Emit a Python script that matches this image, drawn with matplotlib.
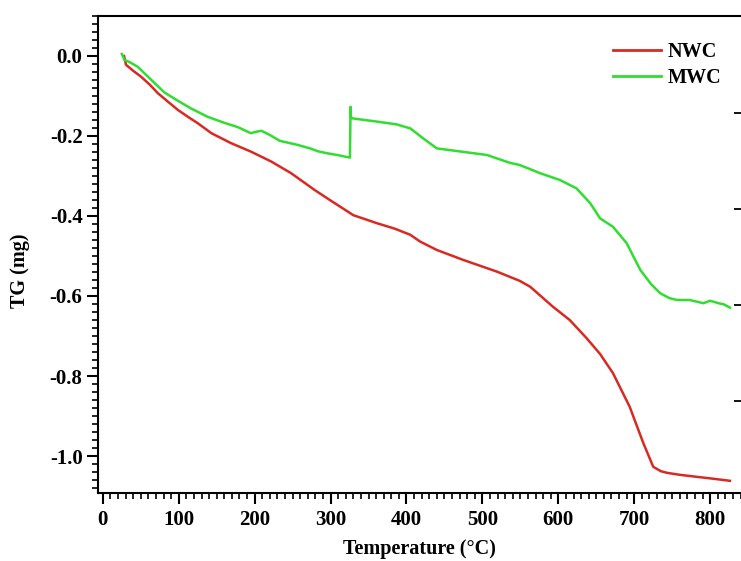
import numpy as np
import matplotlib
matplotlib.use('Agg')
import matplotlib.pyplot as plt
from matplotlib.ticker import MultipleLocator

plt.rcParams['font.family'] = ['Liberation Serif', 'DejaVu Serif']
plt.rcParams['font.weight'] = 'bold'
plt.rcParams['axes.unicode_minus'] = False

# NWC curve (temperature in C, TG in mg)
nwc_temp = [28, 30.5, 40, 50.5, 62, 72.5, 85, 99, 112, 125, 143, 169, 195, 222, 248,
            279, 299, 330, 361, 385, 405, 418, 440, 475, 519, 549, 563, 593, 615, 637,
            655, 672, 694, 712, 725, 735, 743, 760, 782, 805, 826]
nwc_tg = [0.0, -0.022, -0.037, -0.052, -0.072, -0.093, -0.113, -0.135, -0.152, -0.168,
          -0.193, -0.218, -0.239, -0.264, -0.293, -0.335, -0.36, -0.398, -0.418, -0.432,
          -0.447, -0.464, -0.485, -0.51, -0.539, -0.562, -0.577, -0.627, -0.66, -0.705,
          -0.745, -0.793, -0.877, -0.968, -1.027, -1.038, -1.042, -1.047, -1.052, -1.057,
          -1.062]

# MWC curve
mwc_temp = [25, 28.6, 35, 46, 64, 81, 99, 116, 138, 160, 178, 195, 203, 209, 220, 233,
            257, 273, 283, 295, 310, 325.5, 326.3, 326.8, 329, 345, 361, 387, 405, 422,
            440, 466, 506, 536, 549, 563, 576, 602, 624, 642, 655, 672, 690, 708, 722,
            734, 746, 756, 773, 782, 791, 800, 811, 818, 826]
mwc_tg = [0.005, -0.01, -0.015, -0.027, -0.06, -0.091, -0.112, -0.131, -0.152, -0.167,
          -0.178, -0.193, -0.189, -0.187, -0.1975, -0.212, -0.2225, -0.231, -0.238, -0.243,
          -0.248, -0.254, -0.127, -0.153, -0.156, -0.160, -0.164, -0.171, -0.181, -0.206,
          -0.231, -0.2375, -0.2475, -0.267, -0.2725, -0.283, -0.293, -0.31, -0.331, -0.368,
          -0.406, -0.427, -0.468, -0.535, -0.57, -0.593, -0.605, -0.61, -0.61, -0.614,
          -0.618, -0.612, -0.618, -0.621, -0.629]

x_ticks = [0, 100, 200, 300, 400, 500, 600, 700, 800]
y_ticks = [0.0, -0.2, -0.4, -0.6, -0.8, -1.0]
# ticks of the cropped second axis seen at the right edge
right_ticks = [-0.1425, -0.3825, -0.6225, -0.8625]

fig = plt.figure(figsize=(7.41, 5.61), dpi=100)
ax = fig.add_axes([0.132, 0.1212, 0.868, 0.8503])

ax.plot(nwc_temp, nwc_tg, color='#d82a22', linewidth=1.8, label='NWC')
ax.plot(mwc_temp, mwc_tg, color='#30dd30', linewidth=1.8, label='MWC')

ax.set_xlim(-6.6, 840.6)
ax.set_ylim(-1.0925, 0.1)
ax.set_xticks(x_ticks)
ax.set_yticks(y_ticks)
ax.set_yticklabels([f'{v:.1f}' for v in y_ticks])
ax.xaxis.set_minor_locator(MultipleLocator(10))
ax.yaxis.set_minor_locator(MultipleLocator(0.02))
ax.tick_params(axis='both', which='major', direction='out', length=8, width=1.5,
               labelsize=15, top=False, right=False)
ax.tick_params(axis='both', which='minor', direction='out', length=4.5, width=1.2,
               top=False, right=False)
ax.tick_params(axis='x', pad=4)
ax.tick_params(axis='y', pad=3)
for side in ['left', 'bottom', 'top']:
    ax.spines[side].set_linewidth(1.5)
ax.spines['right'].set_visible(False)

ax.set_xlabel('Temperature (°C)', fontsize=14.5, fontweight='bold')
ax.set_ylabel('TG (mg)', fontsize=14.5, fontweight='bold')
ax.xaxis.set_label_coords(0.5, -0.097)
ax.yaxis.set_label_coords(-0.105, 0.465)

ax2 = ax.twinx()
ax2.set_ylim(ax.get_ylim())
ax2.set_yticks(right_ticks)
ax2.set_yticklabels([])
ax2.tick_params(axis='y', direction='in', length=5, width=1.3)
for side in ['left', 'bottom', 'top', 'right']:
    ax2.spines[side].set_visible(False)

leg = ax.legend(loc='upper left', bbox_to_anchor=(613 / 741, 1 - 42 / 561),
                bbox_transform=fig.transFigure, frameon=False, fontsize=14.5,
                handlelength=2.4, handletextpad=0.3, labelspacing=0.3,
                borderpad=0, borderaxespad=0)
for line in leg.get_lines():
    line.set_linewidth(2)

fig.savefig('out.png', dpi=100)
